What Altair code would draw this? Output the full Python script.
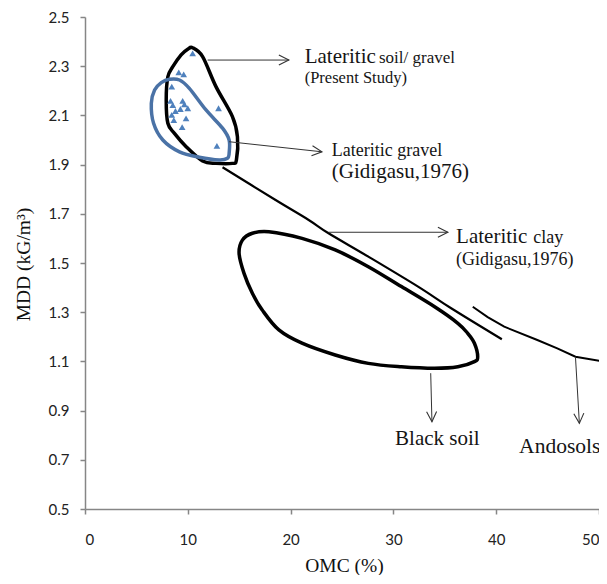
import altair as alt
import pandas as pd

# ---- data ----
tri_x = [10.47, 9.12, 9.60, 8.44, 8.32, 8.54, 9.50, 9.67, 9.28, 8.80, 10.00, 8.44, 8.64, 9.83, 9.45, 12.99, 12.83]
tri_y = [2.352, 2.275, 2.267, 2.217, 2.159, 2.142, 2.159, 2.145, 2.126, 2.118, 2.129, 2.102, 2.081, 2.088, 2.052, 2.129, 1.976]

present_x = [10.47, 11.44, 12.74, 14.34, 14.83, 14.73, 14.34, 12.74, 11.44, 9.84, 8.70, 8.06, 7.90, 8.06, 8.54, 9.35, 9.99]
present_y = [2.375, 2.339, 2.217, 2.095, 2.013, 1.919, 1.905, 1.905, 1.915, 1.973, 2.027, 2.068, 2.163, 2.257, 2.298, 2.346, 2.369]

gravel_x = [8.22, 9.19, 10.15, 11.77, 13.38, 14.02, 14.02, 13.86, 13.06, 11.12, 9.19, 7.57, 6.67, 6.45, 6.77, 7.42]
gravel_y = [2.247, 2.244, 2.210, 2.122, 2.048, 2.000, 1.946, 1.926, 1.919, 1.930, 1.952, 2.000, 2.068, 2.149, 2.203, 2.233]

black_x = [16.28, 17.89, 21.11, 24.34, 27.56, 30.78, 34.01, 36.27, 37.23, 37.88, 38.20, 37.88, 36.27, 34.01,
           30.78, 27.56, 24.34, 21.11, 18.86, 17.24, 16.28, 15.47, 14.99, 15.31]
black_y = [1.621, 1.627, 1.600, 1.553, 1.485, 1.404, 1.322, 1.255, 1.214, 1.174, 1.119, 1.099, 1.078, 1.072,
           1.078, 1.092, 1.126, 1.174, 1.228, 1.309, 1.377, 1.458, 1.539, 1.593]

clay_x = [13.38, 18.54, 21.76, 23.69, 27.56, 32.40, 35.62, 40.55]
clay_y = [1.889, 1.756, 1.675, 1.621, 1.526, 1.404, 1.316, 1.190]

ando_x = [37.72, 39.17, 40.78, 44.00, 45.94, 47.71, 50.45]
ando_y = [1.322, 1.280, 1.241, 1.187, 1.153, 1.119, 1.099]

# arrows: start, end (data units) and head angle (deg)
arr_x1 = [11.93, 14.02, 23.69, 33.63, 47.71]
arr_y1 = [2.325, 1.993, 1.625, 1.052, 1.119]
arr_x2 = [19.83, 23.05, 35.30, 33.75, 48.09]
arr_y2 = [2.325, 1.952, 1.625, 0.855, 0.848]
arr_ang = [0, 6, 0, 88, 87]

# labels
lab_left_text = ["Lateritic", "soil/ gravel", "(Present Study)", "Lateritic gravel", "(Gidigasu,1976)",
                 "Lateritic", "clay", "(Gidigasu,1976)"]
lab_left_x = [21.37, 28.60, 21.37, 24.01, 24.01, 36.10, 43.60, 36.10]
lab_left_y = [2.313, 2.313, 2.230, 1.935, 1.844, 1.580, 1.580, 1.492]
lab_left_size = [21, 17, 16.5, 18, 21, 21, 18, 18]

lab_center_text = ["Black soil", "Andosols"]
lab_center_x = [34.28, 46.18]
lab_center_y = [0.760, 0.726]
lab_center_size = [21, 21.5]

x_ticks = [0, 10, 20, 30, 40, 50]
y_ticks = [0.5, 0.7, 0.9, 1.1, 1.3, 1.5, 1.7, 1.9, 2.1, 2.3, 2.5]

# ---- tables ----
def poly(xs, ys):
    return pd.DataFrame({"x": xs, "y": ys, "o": list(range(len(xs)))})

tri_df = pd.DataFrame({"x": tri_x, "y": tri_y})
arr_df = pd.DataFrame({"x": arr_x1, "y": arr_y1, "x2": arr_x2, "y2": arr_y2, "a": arr_ang})
left_df = pd.DataFrame({"t": lab_left_text, "x": lab_left_x, "y": lab_left_y, "s": lab_left_size})
center_df = pd.DataFrame({"t": lab_center_text, "x": lab_center_x, "y": lab_center_y, "s": lab_center_size})

X = alt.X("x:Q", scale=alt.Scale(domain=[0, 50], nice=False, zero=False),
          axis=alt.Axis(values=x_ticks, title="OMC (%)", titleX=259, titleY=56,
                        titleAlign="center", titleBaseline="middle", labelPadding=18))
Y = alt.Y("y:Q", scale=alt.Scale(domain=[0.5, 2.5], nice=False, zero=False),
          axis=alt.Axis(values=y_ticks, format=".1f", title="MDD (kG/m³)", titleX=-62, titleY=247,
                        titleAngle=-90, titleAlign="center", titleBaseline="middle", labelPadding=11))

base_x = alt.X("x:Q")
base_y = alt.Y("y:Q")

black_outline = alt.Chart(poly(black_x, black_y)).mark_line(
    interpolate="cardinal-closed", color="black", strokeWidth=3.5).encode(x=X, y=Y, order="o:Q")
present_outline = alt.Chart(poly(present_x, present_y)).mark_line(
    interpolate="cardinal-closed", color="black", strokeWidth=3.5).encode(x=base_x, y=base_y, order="o:Q")
gravel_outline = alt.Chart(poly(gravel_x, gravel_y)).mark_line(
    interpolate="cardinal-closed", color="#4A72A6", strokeWidth=3.5).encode(x=base_x, y=base_y, order="o:Q")
clay_line = alt.Chart(poly(clay_x, clay_y)).mark_line(
    interpolate="cardinal", color="black", strokeWidth=2.2).encode(x=base_x, y=base_y, order="o:Q")
ando_line = alt.Chart(poly(ando_x, ando_y)).mark_line(
    interpolate="linear", color="black", strokeWidth=2).encode(x=base_x, y=base_y, order="o:Q")

tris = alt.Chart(tri_df).mark_point(shape="triangle-up", filled=True, size=45, color="#4F81BD",
                                    opacity=1).encode(x=base_x, y=base_y)

arrows = alt.Chart(arr_df).mark_rule(color="#333333", strokeWidth=1).encode(
    x=base_x, y=base_y, x2="x2:Q", y2="y2:Q")
heads = alt.Chart(arr_df).mark_point(shape="M-4,-2L0,0L-4,2", filled=False, size=25,
                                     color="#333333", strokeWidth=1.1, opacity=1).encode(
    x=alt.X("x2:Q"), y=alt.Y("y2:Q"), angle=alt.Angle("a:Q", scale=None))

left_text = alt.Chart(left_df).mark_text(align="left", baseline="alphabetic", font="Liberation Serif",
                                          color="#151515").encode(
    x=base_x, y=base_y, text="t:N", size=alt.Size("s:Q", scale=None))
center_text = alt.Chart(center_df).mark_text(align="center", baseline="alphabetic", font="Liberation Serif",
                                              color="#151515").encode(
    x=base_x, y=base_y, text="t:N", size=alt.Size("s:Q", scale=None))

chart = alt.layer(black_outline, clay_line, ando_line, present_outline, gravel_outline, tris,
                  arrows, heads, left_text, center_text).properties(
    width=514, height=492,
    padding={"left": 77, "top": 9, "right": 0, "bottom": 66},
    autosize=alt.AutoSizeParams(type="none"),
).configure_view(stroke=None).configure_axis(
    grid=False, domainColor="#868686", domainWidth=1.5, tickColor="#868686", tickWidth=1.5, tickSize=5,
    labelFont="Lato", labelFontSize=15, labelColor="#222222",
    titleFont="Liberation Serif", titleFontSize=19.5, titleFontWeight="normal", titleColor="#111111",
)

chart.save("out.html", embed_options={"renderer": "svg", "actions": False})
